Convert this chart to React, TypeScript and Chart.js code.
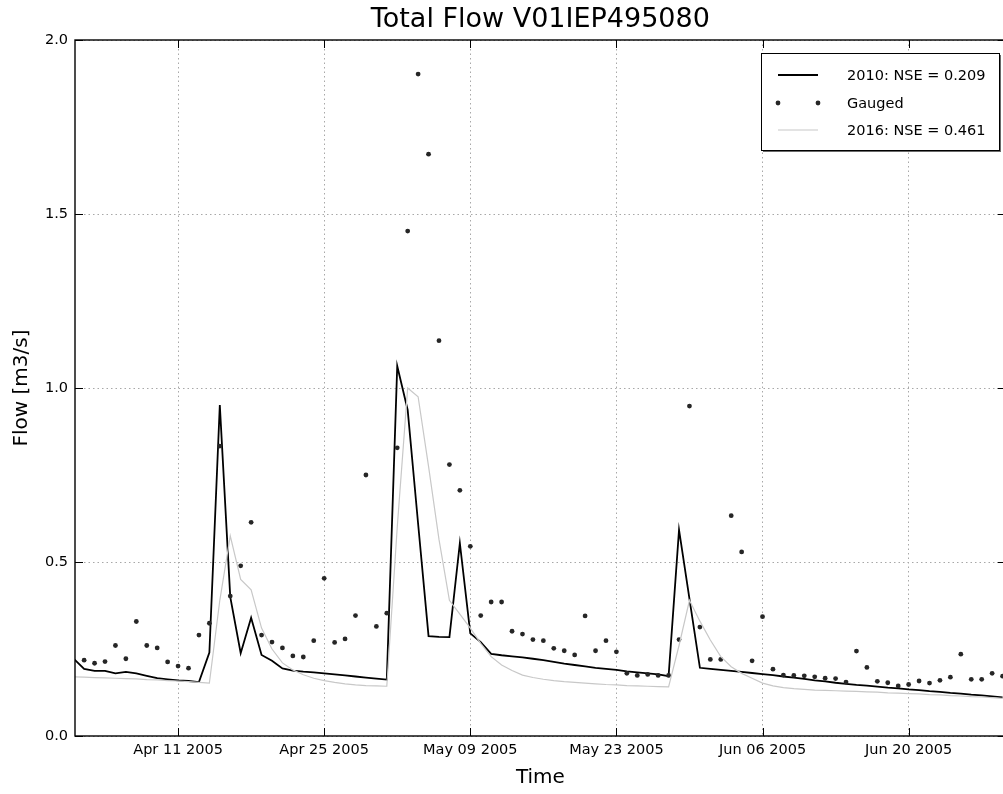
import React, { useEffect, useRef } from "react";
import { Chart, registerables } from "chart.js";

Chart.register(...registerables);

// ---------- data ----------
const chartTitle = "Total Flow V01IEP495080";
const xAxisTitle = "Time";
const yAxisTitle = "Flow [m3/s]";

// x axis: days since Apr 01 2005
const xMinDay = 0.125;
const xMaxDay = 89.3;
const xTickDays = [10, 24, 38, 52, 66, 80];
const xTickLabels = ["Apr 11 2005", "Apr 25 2005", "May 09 2005", "May 23 2005", "Jun 06 2005", "Jun 20 2005"];

const yTickValues = [0, 0.5, 1.0, 1.5, 2.0];
const yTickLabels = ["0.0", "0.5", "1.0", "1.5", "2.0"];

const legendLabels = ["2010: NSE = 0.209", "Gauged", "2016: NSE = 0.461"];

const simFirstDay = 0;
const gaugedFirstDay = 1;

const flow2010 = [
  0.222, 0.193, 0.187, 0.187, 0.180, 0.184, 0.180, 0.173, 0.166, 0.163,
  0.160, 0.158, 0.155, 0.240, 0.951, 0.400, 0.238, 0.340, 0.233, 0.216,
  0.194, 0.188, 0.185, 0.183, 0.180, 0.177, 0.174, 0.171, 0.168, 0.165,
  0.162, 1.063, 0.937, 0.610, 0.287, 0.285, 0.284, 0.554, 0.295, 0.270,
  0.236, 0.232, 0.229, 0.226, 0.222, 0.218, 0.213, 0.208, 0.204, 0.200,
  0.196, 0.193, 0.190, 0.186, 0.183, 0.180, 0.177, 0.172, 0.592, 0.394,
  0.196, 0.193, 0.190, 0.187, 0.184, 0.181, 0.178, 0.175, 0.171, 0.168,
  0.164, 0.160, 0.157, 0.153, 0.150, 0.147, 0.145, 0.142, 0.139, 0.137,
  0.134, 0.132, 0.129, 0.127, 0.124, 0.122, 0.119, 0.117, 0.114, 0.111,
];

const flowGauged = [
  0.218, 0.209, 0.214, 0.260, 0.222, 0.329, 0.260, 0.253, 0.213,
  0.201, 0.195, 0.290, 0.324, 0.833, 0.402, 0.489, 0.614, 0.290, 0.270,
  0.253, 0.230, 0.227, 0.274, 0.453, 0.269, 0.279, 0.346, 0.750, 0.315,
  0.353, 0.828, 1.451, 1.902, 1.672, 1.136, 0.780, 0.706, 0.545, 0.346,
  0.385, 0.385, 0.301, 0.293, 0.277, 0.274, 0.252, 0.245, 0.233, 0.345,
  0.245, 0.274, 0.242, 0.180, 0.174, 0.177, 0.174, 0.174, 0.277, 0.948,
  0.313, 0.220, 0.220, 0.633, 0.529, 0.216, 0.343, 0.192, 0.175, 0.174,
  0.173, 0.170, 0.166, 0.165, 0.155, 0.244, 0.197, 0.157, 0.153, 0.144,
  0.148, 0.158, 0.152, 0.160, 0.169, 0.235, 0.163, 0.163, 0.180, 0.172,
];

const flow2016 = [
  0.170, 0.169, 0.168, 0.167, 0.166, 0.165, 0.164, 0.162, 0.161, 0.159,
  0.158, 0.156, 0.154, 0.152, 0.390, 0.575, 0.450, 0.420, 0.310, 0.250,
  0.210, 0.190, 0.176, 0.166, 0.159, 0.154, 0.150, 0.147, 0.145, 0.144,
  0.143, 0.600, 1.000, 0.975, 0.775, 0.565, 0.390, 0.350, 0.310, 0.266,
  0.228, 0.204, 0.188, 0.175, 0.168, 0.163, 0.159, 0.156, 0.154, 0.152,
  0.150, 0.148, 0.147, 0.145, 0.144, 0.143, 0.142, 0.141, 0.260, 0.390,
  0.330, 0.276, 0.228, 0.199, 0.180, 0.166, 0.152, 0.144, 0.139, 0.136,
  0.134, 0.132, 0.131, 0.130, 0.129, 0.128, 0.127, 0.126, 0.124, 0.123,
  0.122, 0.121, 0.119, 0.118, 0.116, 0.115, 0.113, 0.112, 0.110, 0.108,
];

// ---------- styling ----------
const FONT = "'DejaVu Sans', 'Bitstream Vera Sans', sans-serif";
const CANVAS_W = 1012;
const CANVAS_H = 794;
const PLOT_RIGHT = 1005.7;

const framePlugin = {
  id: "mplFrame",
  afterDatasetsDraw(chart: any) {
    const { ctx, chartArea: a, scales } = chart;
    ctx.save();
    // inward ticks
    ctx.strokeStyle = "#000";
    ctx.lineWidth = 1;
    ctx.beginPath();
    for (const v of xTickDays) {
      const px = Math.round(scales.x.getPixelForValue(v)) + 0.5;
      ctx.moveTo(px, a.bottom);
      ctx.lineTo(px, a.bottom - 8);
      ctx.moveTo(px, a.top);
      ctx.lineTo(px, a.top + 8);
    }
    for (const v of yTickValues) {
      const py = Math.round(scales.y.getPixelForValue(v)) + 0.5;
      ctx.moveTo(a.left, py);
      ctx.lineTo(a.left + 8, py);
      ctx.moveTo(a.right, py);
      ctx.lineTo(a.right - 8, py);
    }
    ctx.stroke();
    // frame
    ctx.lineWidth = 1.4;
    ctx.strokeRect(a.left, a.top, a.right - a.left, a.bottom - a.top);

    // legend
    const bw = 238;
    const bh = 97;
    const bx = Math.round(a.right - 7 - bw);
    const by = Math.round(a.top + 13);
    ctx.fillStyle = "#6a6a6a";
    ctx.fillRect(bx + 2, by + 2, bw, bh);
    ctx.fillStyle = "#fff";
    ctx.fillRect(bx, by, bw, bh);
    ctx.strokeStyle = "#000";
    ctx.lineWidth = 1;
    ctx.strokeRect(bx + 0.5, by + 0.5, bw, bh);
    const rowsY = [by + 22, by + 50, by + 77];
    const ds = chart.data.datasets;
    const order = [0, 1, 2];
    ctx.font = `14.5px ${FONT}`;
    ctx.textBaseline = "middle";
    ctx.textAlign = "left";
    order.forEach((di, r) => {
      const d = ds[di];
      const y = rowsY[r];
      if (d.showLine === false) {
        ctx.fillStyle = d.pointBackgroundColor;
        for (const xx of [bx + 17, bx + 57]) {
          ctx.beginPath();
          ctx.arc(xx, y, d.pointRadius, 0, Math.PI * 2);
          ctx.fill();
        }
      } else {
        ctx.strokeStyle = d.borderColor;
        ctx.lineWidth = d.borderWidth;
        ctx.beginPath();
        ctx.moveTo(bx + 17, y);
        ctx.lineTo(bx + 57, y);
        ctx.stroke();
      }
      ctx.fillStyle = "#000";
      ctx.fillText(legendLabels[r], bx + 86, y + 1);
    });
    ctx.restore();
  },
};

export default function App() {
  const canvasRef = useRef<HTMLCanvasElement | null>(null);

  useEffect(() => {
    const canvas = canvasRef.current;
    if (!canvas) return;
    Chart.defaults.font.family = FONT;
    Chart.defaults.color = "#000";

    const pts2010 = flow2010.map((y, i) => ({ x: simFirstDay + i, y }));
    const pts2016 = flow2016.map((y, i) => ({ x: simFirstDay + i, y }));
    const ptsGauged = flowGauged.map((y, i) => ({ x: gaugedFirstDay + i, y }));

    const chart = new Chart(canvas, {
      type: "line",
      data: {
        datasets: [
          {
            label: legendLabels[0],
            data: pts2010,
            borderColor: "#000000",
            borderWidth: 1.8,
            pointRadius: 0,
            tension: 0,
            fill: false,
            clip: 0,
            order: 2,
          },
          {
            label: legendLabels[1],
            data: ptsGauged,
            showLine: false,
            pointRadius: 2.4,
            pointBorderWidth: 0,
            pointBackgroundColor: "#262626",
            pointBorderColor: "#262626",
            clip: 0,
            order: 1,
          },
          {
            label: legendLabels[2],
            data: pts2016,
            borderColor: "#c8c8c8",
            borderWidth: 1.2,
            pointRadius: 0,
            tension: 0,
            fill: false,
            clip: 0,
            order: 0,
          },
        ] as any,
      },
      options: {
        responsive: false,
        animation: false,
        events: [],
        devicePixelRatio: 1,
        layout: { padding: { left: 0, top: 0, bottom: 0, right: CANVAS_W - PLOT_RIGHT } },
        plugins: {
          legend: { display: false },
          tooltip: { enabled: false },
          title: {
            display: true,
            text: chartTitle,
            fullSize: false,
            color: "#000",
            font: { size: 27, weight: "normal", family: FONT, lineHeight: 1.15 },
            padding: { top: 4, bottom: 4.95 },
          },
        },
        scales: {
          x: {
            type: "linear",
            min: xMinDay,
            max: xMaxDay,
            afterBuildTicks: (s: any) => {
              s.ticks = xTickDays.map((v) => ({ value: v }));
            },
            afterFit: (s: any) => {
              s.height = 58;
            },
            ticks: {
              autoSkip: false,
              maxRotation: 0,
              padding: 6,
              color: "#000",
              font: { size: 14.5, family: FONT },
              callback: (_v: any, i: number) => xTickLabels[i],
            },
            grid: { color: "#a8a8a8", lineWidth: 1, drawTicks: false },
            border: { display: false, dash: [1.5, 3] },
            title: {
              display: true,
              text: xAxisTitle,
              color: "#000",
              font: { size: 20, family: FONT },
              padding: { top: 0, bottom: 4 },
            },
          },
          y: {
            type: "linear",
            min: 0,
            max: 2,
            afterBuildTicks: (s: any) => {
              s.ticks = yTickValues.map((v) => ({ value: v }));
            },
            afterFit: (s: any) => {
              s.width = 75;
            },
            ticks: {
              padding: 7,
              color: "#000",
              font: { size: 14.5, family: FONT },
              callback: (_v: any, i: number) => yTickLabels[i],
            },
            grid: { color: "#a8a8a8", lineWidth: 1, drawTicks: false },
            border: { display: false, dash: [1.5, 3] },
            title: {
              display: true,
              text: yAxisTitle,
              color: "#000",
              font: { size: 20, family: FONT },
              padding: { top: 10, bottom: 0 },
            },
          },
        },
      } as any,
      plugins: [framePlugin],
    });
    return () => chart.destroy();
  }, []);

  return (
    <div
      style={{
        position: "absolute",
        left: 0,
        top: 0,
        width: 1003,
        height: 794,
        overflow: "hidden",
        background: "#fff",
      }}
    >
      <canvas
        ref={canvasRef}
        width={CANVAS_W}
        height={CANVAS_H}
        style={{ display: "block", width: CANVAS_W, height: CANVAS_H }}
      />
    </div>
  );
}
